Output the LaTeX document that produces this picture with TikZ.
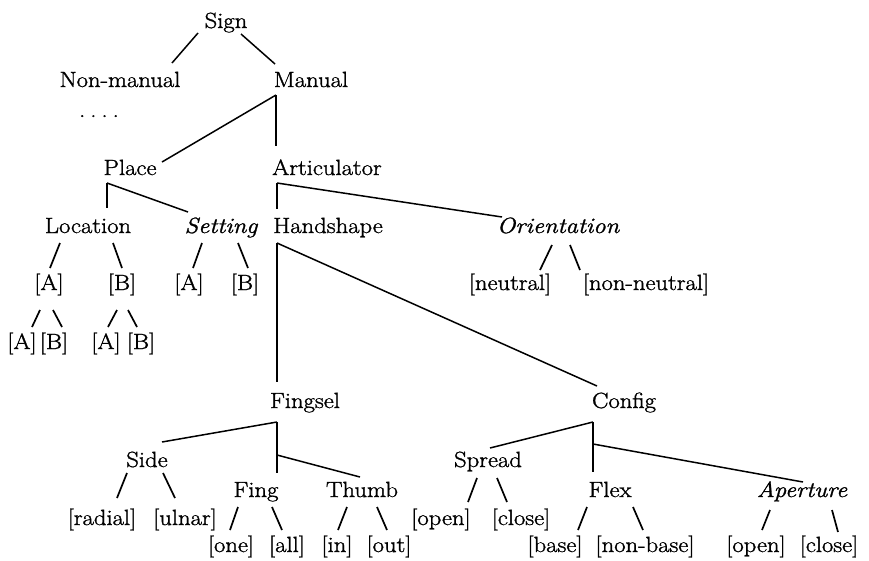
\documentclass[tikz,border=0pt]{standalone}
\usepackage{fontspec}
\setmainfont{Latin Modern Roman}[FakeStretch=1.12,FakeBold=1.3]
\usetikzlibrary{calc}
\begin{document}
\begin{tikzpicture}[x=1pt,y=-1pt,
  lbl/.style={anchor=base,inner sep=0pt,font=\fontsize{22}{26}\selectfont},
  itl/.style={lbl,font=\fontsize{22}{26}\selectfont\itshape},
  branch/.style={line width=1.5pt},
  slant/.style={line width=1.7pt}]
\useasboundingbox (0,0) rectangle (869,560);
% feature labels
\node[lbl] (sign) at (226,28) {Sign};
\node[lbl] (nonman) at (120,87) {Non-manual};
\node[lbl] (manual) at (311,87) {Manual};
\node[lbl] (dots) at (99,117) {.\hspace{5pt}.\hspace{5pt}.\hspace{5pt}.};
\node[lbl] (place) at (130,175) {Place};
\node[lbl] (artic) at (327,175) {Articulator};
\node[lbl] (location) at (88,233) {Location};
\node[itl] (setting) at (221,233) {Setting};
\node[lbl] (handshape) at (328,233) {Handshape};
\node[itl] (orient) at (558,233) {Orientation};
\node[lbl] (locA) at (49,290) {[A]};
\node[lbl] (locB) at (122,290) {[B]};
\node[lbl] (setA) at (189,290) {[A]};
\node[lbl] (setB) at (245,290) {[B]};
\node[lbl] (neutral) at (510,290) {[neutral]};
\node[lbl] (nonneutral) at (646,290) {[non-neutral]};
\node[lbl] (aA) at (22,349) {[A]};
\node[lbl] (aB) at (54,349) {[B]};
\node[lbl] (bA) at (106,349) {[A]};
\node[lbl] (bB) at (141,349) {[B]};
\node[lbl] (fingsel) at (305,408) {Fingsel};
\node[lbl] (config) at (624,408) {Config};
\node[lbl] (side) at (147,467) {Side};
\node[lbl] (spread) at (488,467) {Spread};
\node[lbl] (fing) at (256,497) {Fing};
\node[lbl] (thumb) at (362,497) {Thumb};
\node[lbl] (flex) at (610,497) {Flex};
\node[itl] (aperture) at (802,497) {Aperture};
\node[lbl] (radial) at (102,525) {[radial]};
\node[lbl] (ulnar) at (185,525) {[ulnar]};
\node[lbl] (sopen) at (441,525) {[open]};
\node[lbl] (sclose) at (521,525) {[close]};
\node[lbl] (one) at (231,552) {[one]};
\node[lbl] (all) at (287,552) {[all]};
\node[lbl] (in) at (337,552) {[in]};
\node[lbl] (out) at (389,552) {[out]};
\node[lbl] (base) at (555,552) {[base]};
\node[lbl] (nonbase) at (645,552) {[non-base]};
\node[lbl] (aopen) at (756,552) {[open]};
\node[lbl] (aclose) at (829,552) {[close]};

% \twig{style}{parent}{dx,dy}{child}{dx,dy}: line from a point near the parent to a point near the child
\newcommand{\twig}[5]{\draw[#1] ($(#2.base)+(#3)$) -- ($(#4.base)+(#5)$);}

% main branches
\twig{branch}{sign}{-28,5}{nonman}{52,-24}
\twig{branch}{sign}{15,6}{manual}{-36,-23}
\twig{branch}{manual}{-35,8}{place}{32,-13}
\twig{branch}{manual}{-35,8}{artic}{-51,-29}
\twig{branch}{place}{-23,8}{location}{19,-25}
\twig{branch}{place}{-23,8}{setting}{-33,-21}
\twig{branch}{artic}{-50,8}{handshape}{-51,-24}
\twig{branch}{artic}{-50,8}{orient}{-56,-16}
\twig{branch}{handshape}{-51,10}{fingsel}{-28,-26}
\twig{branch}{handshape}{-51,10}{config}{-27,-22}
\twig{branch}{fingsel}{-28,14}{side}{15,-25}
\twig{branch}{fingsel}{-28,14}{fing}{21,-24}
\twig{branch}{fingsel}{-28,47}{thumb}{-2,-20}
\twig{branch}{config}{-31,14}{spread}{2,-19}
\twig{branch}{config}{-31,14}{flex}{-17,-25}
\twig{branch}{config}{-31,36}{aperture}{1,-15}

% short slanted strokes to the values
\twig{slant}{location}{-28,10}{locA}{1,-22}
\twig{slant}{location}{25,10}{locB}{0,-22}
\twig{slant}{setting}{-19,10}{setA}{4,-22}
\twig{slant}{setting}{17,10}{setB}{3,-22}
\twig{slant}{orient}{-6,12}{neutral}{30,-20}
\twig{slant}{orient}{12,12}{nonneutral}{-66,-20}
\twig{slant}{locA}{-9,20}{aA}{10,-22}
\twig{slant}{locA}{4,20}{aB}{8,-22}
\twig{slant}{locB}{-5,20}{bA}{2,-22}
\twig{slant}{locB}{6,20}{bB}{-4,-22}
\twig{slant}{side}{-20,6}{radial}{15,-27}
\twig{slant}{side}{16,6}{ulnar}{-10,-27}
\twig{slant}{fing}{-18,10}{one}{-1,-22}
\twig{slant}{fing}{16,10}{all}{-5,-22}
\twig{slant}{thumb}{-15,10}{in}{1,-22}
\twig{slant}{thumb}{15,10}{out}{-2,-22}
\twig{slant}{spread}{-11,11}{sopen}{27,-23}
\twig{slant}{spread}{9,11}{sclose}{-14,-23}
\twig{slant}{flex}{-23,10}{base}{23,-22}
\twig{slant}{flex}{23,10}{nonbase}{-2,-22}
\twig{slant}{aperture}{-32,13}{aopen}{6,-22}
\twig{slant}{aperture}{30,13}{aclose}{9,-20}
\end{tikzpicture}
\end{document}
